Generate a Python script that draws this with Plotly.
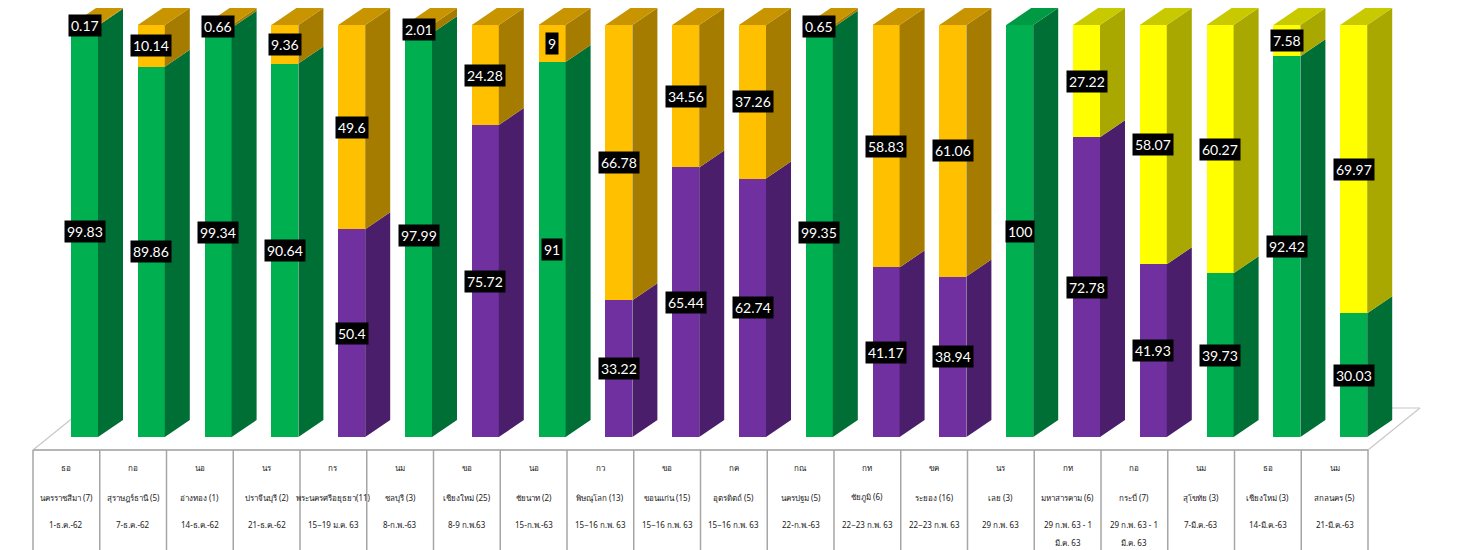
import plotly.graph_objects as go

# ---------------- data ----------------
codes = ["ธอ", "กอ", "นอ", "นร", "กร", "นม", "ขอ", "นอ", "กว", "ขอ",
         "กค", "กณ", "กท", "ขค", "นร", "กท", "กอ", "นม", "ธอ", "นม"]
names = ["นครราชสีมา (7)", "สุราษฎร์ธานี (5)", "อ่างทอง (1)", "ปราจีนบุรี (2)",
         "พระนครศรีอยุธยา(11)", "ชลบุรี (3)", "เชียงใหม่ (25)", "ชัยนาท (2)",
         "พิษณุโลก (13)", "ขอนแก่น (15)", "อุตรดิตถ์ (5)", "นครปฐม (5)",
         "ชัยภูมิ (6)", "ระยอง (16)", "เลย (3)", "มหาสารคาม (6)", "กระบี่ (7)",
         "สุโขทัย (3)", "เชียงใหม่ (3)", "สกลนคร (5)"]
dates = ["1-ธ.ค.-62", "7-ธ.ค.-62", "14-ธ.ค.-62", "21-ธ.ค.-62", "15−19 ม.ค. 63",
         "8-ก.พ.-63", "8-9 ก.พ.63", "15-ก.พ.-63", "15−16 ก.พ. 63", "15−16 ก.พ. 63",
         "15−16 ก.พ. 63", "22-ก.พ.-63", "22−23 ก.พ. 63", "22−23 ก.พ. 63", "29 ก.พ. 63",
         "29 ก.พ. 63 - 1", "29 ก.พ. 63 - 1", "7-มี.ค.-63", "14-มี.ค.-63", "21-มี.ค.-63"]
dates2 = [""] * 15 + ["มี.ค. 63", "มี.ค. 63", "", "", ""]

green = [99.83, 89.86, 99.34, 90.64, 0, 97.99, 0, 91, 0, 0,
         0, 99.35, 0, 0, 100, 0, 0, 39.73, 92.42, 30.03]
purple = [0, 0, 0, 0, 50.4, 0, 75.72, 0, 33.22, 65.44,
          62.74, 0, 41.17, 38.94, 0, 72.78, 41.93, 0, 0, 0]
orange = [0.17, 10.14, 0.66, 9.36, 49.6, 2.01, 24.28, 9, 66.78, 34.56,
          37.26, 0.65, 58.83, 61.06, 0, 0, 0, 0, 0, 0]
yellow = [0, 0, 0, 0, 0, 0, 0, 0, 0, 0,
          0, 0, 0, 0, 0, 27.22, 58.07, 60.27, 7.58, 69.97]

series = [
    ("green", green, "#00B050", "#006F35", "#009A45"),
    ("purple", purple, "#7030A0", "#4A1E6B", "#5E2888"),
    ("orange", orange, "#FFC000", "#A67C00", "#C89500"),
    ("yellow", yellow, "#FFFF00", "#A8A800", "#C9C900"),
]

# ---------------- geometry ----------------
OFF = 8                      # page body margin offset
W, H = 1462, 550
PX = 66.8                    # pixels per category
BAR0 = 84.5 - OFF            # figure-pixel centre of first bar
x0 = -BAR0 / PX
x1 = x0 + W / PX
BASE_PX, PPU = 437 - OFF, 4.12
y0 = -(H - BASE_PX) / PPU
y1 = y0 + H / PPU
BW = 27 / PX
DX = 25 / PX
DY = 17 / PPU


def fx(p):
    """page pixel x -> paper x"""
    return (p - OFF) / W


def fy(p):
    """page pixel y -> paper y"""
    return 1 - (p - OFF) / H


n = len(names)
xs = list(range(n))

fig = go.Figure()

# front faces
for name, vals, front, side, top in series:
    fig.add_trace(go.Bar(x=xs, y=vals, width=BW, marker=dict(color=front, line=dict(width=0)),
                         name=name, showlegend=False, hoverinfo="skip"))

# side and top faces computed from the data
tops = [sum(s[1][i] for s in series) for i in range(n)]
for name, vals, front, side, top in series:
    sx, sy = [], []
    tx, ty = [], []
    for i in range(n):
        v = vals[i]
        if v <= 0:
            continue
        b = 0
        for s in series:
            if s[0] == name:
                break
            b += s[1][i]
        t = b + v
        xr = i + BW / 2
        xl = i - BW / 2
        sx += [xr, xr, xr + DX, xr + DX, xr, None]
        sy += [b, t, t + DY, b + DY, b, None]
        if abs(t - tops[i]) < 1e-9:
            tx += [xl, xr, xr + DX, xl + DX, xl, None]
            ty += [t, t, t + DY, t + DY, t, None]
    fig.add_trace(go.Scatter(x=sx, y=sy, fill="toself", fillcolor=side, mode="lines",
                             line=dict(width=0, color=side), showlegend=False, hoverinfo="skip"))
    if tx:
        fig.add_trace(go.Scatter(x=tx, y=ty, fill="toself", fillcolor=top, mode="lines",
                                 line=dict(width=0, color=top), showlegend=False, hoverinfo="skip"))

# data labels
annotations = []
for name, vals, front, side, top in series:
    for i in range(n):
        v = vals[i]
        if v <= 0:
            continue
        b = 0
        for s in series:
            if s[0] == name:
                break
            b += s[1][i]
        annotations.append(dict(x=i, y=b + v / 2, xref="x", yref="y", text=f"{v:g}",
                                showarrow=False, bgcolor="black", borderpad=2,
                                font=dict(family="Lato", size=14, color="white")))

# category table labels
CELL0 = 33
CELLW = (1368 - 33) / n
line_y = [468, 497, 524, 542]
for i in range(n):
    cx = CELL0 + CELLW * (i + 0.5)
    for j, txt in enumerate([codes[i], names[i], dates[i], dates2[i]]):
        if not txt:
            continue
        annotations.append(dict(x=fx(cx), y=fy(line_y[j]), xref="paper", yref="paper",
                                xanchor="center", yanchor="middle",
                                text=txt, showarrow=False,
                                font=dict(family="Noto Sans", size=8, color="#1a1a1a")))

shapes = []
LC = "#A6A6A6"
# floor outline
floor = [(33, 450), (1368, 450), (1420, 408), (85, 408)]
for k in range(4):
    (ax, ay), (bx, by) = floor[k], floor[(k + 1) % 4]
    if k == 2:
        bx = 1370
    shapes.append(dict(type="line", xref="paper", yref="paper", x0=fx(ax), y0=fy(ay),
                       x1=fx(bx), y1=fy(by), line=dict(color="#C8C8C8", width=1.2),
                       layer="below"))
# table lines
for k in range(n + 1):
    xp = CELL0 + CELLW * k
    shapes.append(dict(type="line", xref="paper", yref="paper", x0=fx(xp), x1=fx(xp),
                       y0=fy(450), y1=0, line=dict(color=LC, width=1.5)))
shapes.append(dict(type="line", xref="paper", yref="paper", x0=fx(CELL0), x1=fx(1368),
                   y0=fy(450), y1=fy(450), line=dict(color=LC, width=1.5)))

fig.update_layout(
    width=W, height=H, barmode="stack", bargap=0,
    margin=dict(l=0, r=0, t=0, b=0),
    paper_bgcolor="white", plot_bgcolor="white",
    xaxis=dict(range=[x0, x1], visible=False, fixedrange=True),
    yaxis=dict(range=[y0, y1], visible=False, fixedrange=True),
    annotations=annotations, shapes=shapes, showlegend=False,
)

fig.write_html("out.html")
